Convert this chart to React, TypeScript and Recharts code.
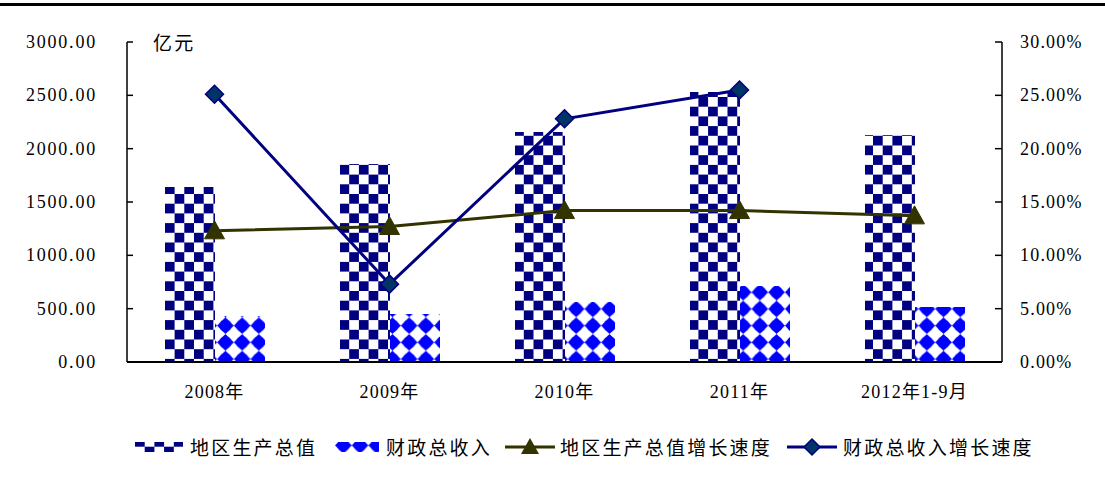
import { Bar, ComposedChart, Line, XAxis, YAxis } from "recharts";

const CATEGORIES = ["2008年", "2009年", "2010年", "2011年", "2012年1-9月"];
const GDP = [1640, 1856, 2156, 2531, 2128];
const FISCAL = [431, 450, 562, 712, 515];
const GDP_GROWTH = [12.3, 12.7, 14.2, 14.2, 13.7];
const FISCAL_GROWTH: (number | null)[] = [25.1, 7.3, 22.8, 25.5, null];
const LEFT_TICKS = [0, 500, 1000, 1500, 2000, 2500, 3000];
const RIGHT_TICKS = [0, 5, 10, 15, 20, 25, 30];
const SERIES_NAMES = ["地区生产总值", "财政总收入", "地区生产总值增长速度", "财政总收入增长速度"];

const NUM_FONT = '"Liberation Serif", "Noto Sans CJK SC", serif';
const CJK_FONT = '"Noto Sans CJK SC", sans-serif';

const NAVY = "#000080";
const BLUE = "#0000ff";
const OLIVE = "#333300";
const DIAMOND_FILL = "#003366";

const chartData = CATEGORIES.map((name, i) => ({
  name,
  gdp: GDP[i],
  fiscal: FISCAL[i],
  gdpGrowth: GDP_GROWTH[i],
  fiscalGrowth: FISCAL_GROWTH[i],
}));

const LeftTick = ({ x, y, payload }: any) => (
  <g>
    <line x1={x} x2={x + 6} y1={y} y2={y} stroke="#000" strokeWidth={1.5} />
    <text
      x={x - 30}
      y={y}
      dy={6}
      textAnchor="end"
      fontFamily={NUM_FONT}
      fontSize={18}
      letterSpacing={1.8}
      fill="#000"
    >
      {Number(payload.value).toFixed(2)}
    </text>
  </g>
);

const RightTick = ({ x, y, payload }: any) => (
  <g>
    <line x1={x - 7} x2={x} y1={y} y2={y} stroke="#000" strokeWidth={1.5} />
    <text
      x={x + 18}
      y={y}
      dy={6}
      textAnchor="start"
      fontFamily={NUM_FONT}
      fontSize={18}
      letterSpacing={1.2}
      fill="#000"
    >
      {`${Number(payload.value).toFixed(2)}%`}
    </text>
  </g>
);

const CategoryTick = ({ x, y, payload }: any) => (
  <text
    x={x}
    y={y + 36}
    textAnchor="middle"
    fontFamily={NUM_FONT}
    fontSize={18}
    letterSpacing={1.2}
    fill="#000"
  >
    {payload.value}
  </text>
);

const TriangleDot = ({ cx, cy, index }: any) => {
  if (cx == null || cy == null) return <g key={`t-${index}`} />;
  return (
    <polygon
      key={`t-${index}`}
      points={`${cx},${cy - 10} ${cx + 10},${cy + 8} ${cx - 10},${cy + 8}`}
      fill={OLIVE}
      stroke={OLIVE}
    />
  );
};

const DiamondDot = ({ cx, cy, index }: any) => {
  if (cx == null || cy == null) return <g key={`d-${index}`} />;
  return (
    <polygon
      key={`d-${index}`}
      points={`${cx},${cy - 9} ${cx + 9},${cy} ${cx},${cy + 9} ${cx - 9},${cy}`}
      fill={DIAMOND_FILL}
      stroke={NAVY}
      strokeWidth={1.5}
    />
  );
};

const legendText = {
  fontFamily: CJK_FONT,
  fontSize: 19,
  letterSpacing: 2.2,
  color: "#000",
  whiteSpace: "nowrap" as const,
};

function ChartLegend() {
  const items = [
    { left: 135, textLeft: 190, kind: "gdp" },
    { left: 335, textLeft: 386, kind: "fiscal" },
    { left: 505, textLeft: 560, kind: "tri" },
    { left: 787, textLeft: 843, kind: "dia" },
  ];
  return (
    <>
      {items.map((item, i) => (
        <div key={item.kind}>
          <svg
            width={50}
            height={20}
            style={{ position: "absolute", left: item.left, top: 437 }}
          >
            {item.kind === "gdp" && (
              <rect x={0} y={5} width={48} height={10} fill="url(#gdpPattern)" />
            )}
            {item.kind === "fiscal" && (
              <rect x={0} y={5} width={44} height={10} fill="url(#fiscalPattern)" />
            )}
            {item.kind === "tri" && (
              <>
                <line x1={0} x2={50} y1={10} y2={10} stroke={OLIVE} strokeWidth={3} />
                <polygon points="25,1 34,17 16,17" fill={OLIVE} />
              </>
            )}
            {item.kind === "dia" && (
              <>
                <line x1={0} x2={50} y1={10} y2={10} stroke={NAVY} strokeWidth={3} />
                <polygon
                  points="25,2 33,10 25,18 17,10"
                  fill={DIAMOND_FILL}
                  stroke={NAVY}
                  strokeWidth={1.5}
                />
              </>
            )}
          </svg>
          <div
            style={{
              ...legendText,
              position: "absolute",
              left: item.textLeft,
              top: 433,
            }}
          >
            {SERIES_NAMES[i]}
          </div>
        </div>
      ))}
    </>
  );
}

export default function App() {
  return (
    <div
      style={{
        position: "absolute",
        left: 0,
        top: 0,
        width: 1105,
        height: 479,
        background: "#fff",
        overflow: "hidden",
      }}
    >
      <div
        style={{
          position: "absolute",
          left: 0,
          top: 3,
          width: 1105,
          height: 3,
          background: "#000",
        }}
      />
      <ComposedChart
        width={1105}
        height={479}
        data={chartData}
        margin={{ top: 42, right: 0, bottom: 77, left: 0 }}
        barGap={0}
      >
        <defs>
          <pattern
            id="gdpPattern"
            patternUnits="userSpaceOnUse"
            width={19.4}
            height={19.4}
          >
            <rect x={0} y={0} width={19.4} height={19.4} fill="#fff" />
            <rect x={0} y={0} width={9.7} height={9.7} fill={NAVY} />
            <rect x={9.7} y={9.7} width={9.7} height={9.7} fill={NAVY} />
          </pattern>
          <pattern
            id="fiscalPattern"
            patternUnits="userSpaceOnUse"
            width={16.7}
            height={16.7}
          >
            <rect x={0} y={0} width={16.7} height={16.7} fill="#fff" />
            <polygon points="8.35,0 16.7,8.35 8.35,16.7 0,8.35" fill={BLUE} />
            <circle cx={8.35} cy={8.35} r={6.2} fill={BLUE} />
          </pattern>
        </defs>
        <XAxis
          dataKey="name"
          height={40}
          interval={0}
          tickLine={false}
          tickSize={0}
          tickMargin={0}
          axisLine={{ stroke: "#000", strokeWidth: 2 }}
          tick={<CategoryTick />}
        />
        <YAxis
          yAxisId="left"
          width={127}
          domain={[0, 3000]}
          ticks={LEFT_TICKS}
          interval={0}
          tickLine={false}
          tickSize={0}
          tickMargin={0}
          axisLine={{ stroke: "#000", strokeWidth: 1.5 }}
          tick={<LeftTick />}
        />
        <YAxis
          yAxisId="right"
          orientation="right"
          width={103}
          domain={[0, 30]}
          ticks={RIGHT_TICKS}
          interval={0}
          tickLine={false}
          tickSize={0}
          tickMargin={0}
          axisLine={{ stroke: "#000", strokeWidth: 1.5 }}
          tick={<RightTick />}
        />
        <Bar
          yAxisId="left"
          dataKey="gdp"
          name={SERIES_NAMES[0]}
          barSize={50}
          fill="url(#gdpPattern)"
          isAnimationActive={false}
        />
        <Bar
          yAxisId="left"
          dataKey="fiscal"
          name={SERIES_NAMES[1]}
          barSize={50}
          fill="url(#fiscalPattern)"
          isAnimationActive={false}
        />
        <Line
          yAxisId="right"
          dataKey="gdpGrowth"
          name={SERIES_NAMES[2]}
          stroke={OLIVE}
          strokeWidth={3}
          dot={<TriangleDot />}
          activeDot={false}
          isAnimationActive={false}
        />
        <Line
          yAxisId="right"
          dataKey="fiscalGrowth"
          name={SERIES_NAMES[3]}
          stroke={NAVY}
          strokeWidth={3}
          dot={<DiamondDot />}
          activeDot={false}
          isAnimationActive={false}
        />
      </ComposedChart>
      <div
        style={{
          ...legendText,
          position: "absolute",
          left: 153,
          top: 28,
        }}
      >
        亿元
      </div>
      <ChartLegend />
    </div>
  );
}
